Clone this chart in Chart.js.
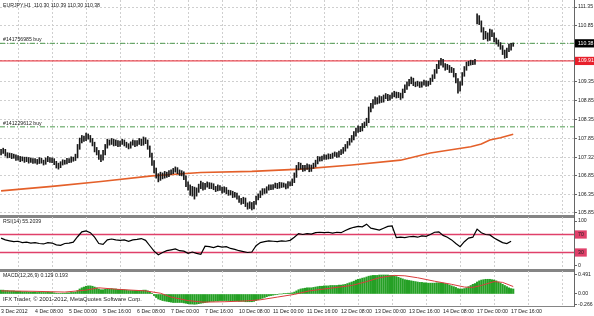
<!DOCTYPE html>
<html>
<head>
<meta charset="utf-8">
<script src="https://cdn.jsdelivr.net/npm/chart.js@4.4.1/dist/chart.umd.min.js"></script>
<style>
  html, body { margin: 0; padding: 0; background: #fff; }
  #wrap { position: relative; width: 594px; height: 316px; overflow: hidden; font-family: 'Liberation Sans', Arial, sans-serif; }
  canvas { position: absolute; left: 0; }
  .lbl { position: absolute; left: 3px; font-size: 5.2px; line-height: 1; color: #222; white-space: pre; }
</style>
</head>
<body>
<div id="wrap">
  <canvas id="priceChart" width="594" height="218" style="top:0"></canvas>
  <canvas id="rsiChart" width="594" height="55" style="top:217px"></canvas>
  <canvas id="macdChart" width="594" height="45" style="top:271px"></canvas>
  <div class="lbl" style="top:3px">EURJPY,H1  110.30 110.39 110.30 110.38</div>
  <div class="lbl" style="top:37px">#141756985 buy</div>
  <div class="lbl" style="top:121px">#141229612 buy</div>
  <div class="lbl" style="top:219px">RSI(14) 55.2039</div>
  <div class="lbl" style="top:273px">MACD(12,26,9) 0.129 0.193</div>
  <div class="lbl" style="top:297px; font-size:5.8px">IFX Trader, © 2001-2012, MetaQuotes Software Corp.</div>
</div>
<script>
// H1 bars from 3 Dec 16:00 to 17 Dec 17:00 (bar index = position on the x axis)
const highs = [
  107.55,107.58,107.55,107.46,107.45,107.44,107.42,107.40,107.38,107.36,107.35,107.34,107.34,107.33,107.32,107.30,
  107.30,107.28,107.33,107.31,107.26,107.32,107.36,107.33,107.32,107.30,107.23,107.18,107.22,107.27,107.26,107.31,
  107.30,107.35,107.34,107.42,107.68,107.85,107.92,107.90,107.98,107.96,107.92,107.84,107.74,107.60,107.52,107.40,
  107.52,107.68,107.82,107.80,107.84,107.82,107.80,107.78,107.77,107.82,107.80,107.74,107.70,107.75,107.80,107.78,
  107.78,107.84,107.82,107.88,107.86,107.80,107.64,107.45,107.25,107.05,106.90,106.94,106.92,106.96,106.94,106.98,
  107.00,107.04,107.08,107.06,107.00,106.98,106.95,106.84,106.68,106.60,106.56,106.54,106.52,106.62,106.70,106.66,
  106.64,106.68,106.66,106.65,106.63,106.56,106.60,106.58,106.54,106.55,106.53,106.46,106.45,106.43,106.40,106.38,
  106.31,106.24,106.27,106.25,106.12,106.15,106.13,106.16,106.30,106.36,106.44,106.50,106.50,106.55,106.60,106.60,
  106.61,106.65,106.64,106.67,106.66,106.65,106.63,106.69,106.68,106.76,106.92,107.12,107.20,107.18,107.12,107.12,
  107.16,107.14,107.13,107.18,107.26,107.36,107.35,107.37,107.41,107.40,107.43,107.42,107.45,107.48,107.46,107.50,
  107.54,107.60,107.68,107.76,107.84,107.92,108.02,108.12,108.18,108.16,108.24,108.28,108.38,108.68,108.78,108.88,
  108.95,108.93,108.98,108.96,109.00,109.04,109.02,109.00,109.06,109.10,109.08,109.07,109.05,109.16,109.27,109.35,
  109.42,109.48,109.45,109.35,109.37,109.35,109.35,109.40,109.38,109.37,109.45,109.54,109.68,109.82,109.92,109.98,
  109.95,109.84,109.82,109.79,109.74,109.71,109.58,109.44,109.36,109.60,109.76,109.88,109.90,109.93,109.92,109.95,
  111.17,111.12,110.98,110.80,110.70,110.66,110.76,110.74,110.66,110.52,110.47,110.40,110.32,110.20,110.25,110.36,110.38,110.39
];
const lows = [
  107.40,107.44,107.37,107.32,107.33,107.30,107.31,107.25,107.26,107.22,107.24,107.20,107.22,107.18,107.20,107.17,
  107.18,107.15,107.17,107.18,107.13,107.15,107.22,107.20,107.19,107.14,107.05,107.02,107.06,107.13,107.15,107.16,
  107.19,107.20,107.23,107.25,107.32,107.55,107.72,107.76,107.78,107.82,107.74,107.64,107.48,107.40,107.28,107.22,
  107.26,107.40,107.58,107.66,107.68,107.64,107.65,107.62,107.63,107.68,107.64,107.60,107.56,107.58,107.66,107.62,
  107.64,107.68,107.65,107.66,107.70,107.55,107.34,107.12,106.92,106.78,106.68,106.72,106.76,106.78,106.80,106.82,
  106.88,106.90,106.94,106.90,106.85,106.84,106.74,106.55,106.46,106.32,106.30,106.22,106.30,106.40,106.50,106.46,
  106.48,106.54,106.50,106.50,106.47,106.42,106.44,106.45,106.38,106.40,106.36,106.32,106.33,106.26,106.27,106.22,
  106.13,106.08,106.10,106.02,105.95,105.97,105.93,105.96,106.08,106.20,106.26,106.33,106.37,106.38,106.46,106.47,
  106.48,106.52,106.50,106.51,106.53,106.54,106.49,106.51,106.57,106.58,106.66,106.80,107.00,107.02,106.96,106.97,
  107.01,106.95,106.96,107.04,107.08,107.16,107.23,107.24,107.28,107.28,107.29,107.30,107.31,107.36,107.33,107.34,
  107.41,107.44,107.50,107.58,107.66,107.74,107.80,107.90,108.00,108.02,108.04,108.13,108.18,108.26,108.55,108.65,
  108.75,108.76,108.78,108.80,108.81,108.90,108.85,108.86,108.91,108.95,108.92,108.93,108.88,108.92,109.06,109.15,
  109.24,109.30,109.25,109.22,109.24,109.20,109.21,109.26,109.23,109.24,109.28,109.36,109.44,109.58,109.70,109.80,
  109.74,109.66,109.68,109.60,109.60,109.48,109.32,109.05,109.10,109.26,109.50,109.66,109.78,109.80,109.81,109.82,
  110.90,110.88,110.68,110.48,110.50,110.44,110.46,110.56,110.42,110.36,110.30,110.22,110.08,109.98,110.00,110.16,110.20,110.30
];

// moving average, read at a few bars
const maBars = [0, 24, 47, 71, 94, 118, 141, 165, 188, 202, 221, 226, 230, 235, 241];
const maValues = [106.44, 106.56, 106.69, 106.84, 106.93, 106.96, 107.02, 107.13, 107.26, 107.45, 107.62, 107.69, 107.80, 107.86, 107.95];

const orderLevels = [110.38, 108.15];
const alertLevel = 109.91;
const priceTicks = [105.85, 106.35, 106.85, 107.32, 107.85, 108.35, 108.85, 109.35, 109.91, 110.38, 110.85, 111.35];

// RSI(14), one value every 2 bars
const rsiStep = 2;
const rsiValues = [
  62,58,56,54,55,52,53,51,52,50, 49,52,51,47,46,50,51,53,65,76,
  78,74,64,50,48,58,60,58,57,58, 55,58,59,61,57,45,33,25,30,34,
  36,38,34,33,28,31,28,26,44,43, 41,44,42,43,39,37,34,32,30,31,
  45,52,54,56,55,54,56,55,57,64, 72,70,72,71,74,75,74,75,73,75,
  74,79,83,86,88,87,93,84,82,80, 84,88,89,63,64,63,65,66,64,67,
  66,70,75,76,68,64,58,50,43,54, 62,64,82,74,70,69,62,57,52,50,55
];
const rsiLevels = [30, 70];
const rsiTicks = [0, 30, 70, 100];

// MACD(12,26,9) histogram per bar, signal line read at a few bars
const macdValues = [
  0.10,0.10,0.09,0.09,0.08,0.08,0.08,0.07,0.07,0.07,0.06,0.06,0.06,0.05,0.05,0.05,
  0.05,0.04,0.05,0.04,0.04,0.04,0.05,0.04,0.04,0.03,0.02,0.01,0.01,0.02,0.02,0.03,
  0.03,0.04,0.04,0.05,0.09,0.13,0.16,0.18,0.20,0.21,0.21,0.20,0.18,0.16,0.13,0.11,
  0.11,0.12,0.13,0.13,0.14,0.13,0.13,0.12,0.12,0.12,0.11,0.10,0.09,0.09,0.09,0.09,
  0.09,0.09,0.09,0.10,0.10,0.08,0.05,0.01,-0.04,-0.09,-0.13,-0.15,-0.17,-0.18,-0.19,-0.20,
  -0.21,-0.22,-0.22,-0.22,-0.22,-0.22,-0.23,-0.24,-0.25,-0.26,-0.26,-0.266,-0.26,-0.25,-0.24,-0.23,
  -0.22,-0.21,-0.20,-0.19,-0.19,-0.18,-0.18,-0.17,-0.17,-0.17,-0.17,-0.17,-0.18,-0.18,-0.18,-0.18,
  -0.19,-0.19,-0.19,-0.20,-0.20,-0.20,-0.20,-0.19,-0.17,-0.15,-0.13,-0.11,-0.09,-0.07,-0.05,-0.04,
  -0.03,-0.02,-0.01,0.00,0.00,0.01,0.01,0.02,0.02,0.03,0.05,0.08,0.11,0.13,0.14,0.15,
  0.16,0.16,0.16,0.17,0.18,0.19,0.20,0.20,0.21,0.21,0.21,0.22,0.22,0.22,0.22,0.23,
  0.23,0.24,0.25,0.27,0.29,0.31,0.33,0.36,0.38,0.39,0.41,0.42,0.44,0.46,0.47,0.48,
  0.48,0.48,0.49,0.49,0.491,0.49,0.49,0.48,0.48,0.47,0.45,0.43,0.41,0.39,0.37,0.36,
  0.35,0.34,0.33,0.32,0.31,0.30,0.30,0.29,0.29,0.28,0.28,0.28,0.28,0.29,0.29,0.29,
  0.28,0.27,0.25,0.23,0.21,0.19,0.17,0.14,0.13,0.13,0.14,0.16,0.19,0.22,0.25,0.27,
  0.31,0.34,0.36,0.37,0.38,0.38,0.38,0.37,0.36,0.34,0.31,0.28,0.25,0.22,0.19,0.16,0.14,0.129
];
const signalBars = [0, 15, 30, 40, 46, 55, 68, 75, 80, 88, 95, 105, 115, 122, 130, 138, 145, 155, 165, 172, 178, 185, 190, 196, 204, 212, 218, 222, 226, 232, 236, 241];
const signalValues = [0.08, 0.07, 0.05, 0.10, 0.16, 0.12, 0.08, 0.02, -0.08, -0.17, -0.21, -0.20, -0.18, -0.15, -0.08, -0.01, 0.08, 0.15, 0.22, 0.32, 0.42, 0.48, 0.47, 0.42, 0.33, 0.25, 0.18, 0.17, 0.22, 0.32, 0.30, 0.193];
const macdTicks = [-0.266, 0, 0.491];

// time axis: one label every 16 bars
const dateTicks = [0, 16, 32, 48, 64, 80, 96, 112, 128, 144, 160, 176, 192, 208, 224, 240, 256];
const dateLabels = ['3 Dec 2012', '4 Dec 08:00', '5 Dec 00:00', '5 Dec 16:00', '6 Dec 08:00', '7 Dec 00:00',
  '7 Dec 16:00', '10 Dec 08:00', '11 Dec 00:00', '11 Dec 16:00', '12 Dec 08:00', '13 Dec 00:00',
  '13 Dec 16:00', '14 Dec 08:00', '17 Dec 00:00', '17 Dec 16:00'];

const FONT = "'Liberation Sans', Arial, sans-serif";
const X_MIN = -0.5, X_MAX = 269.6;
const GRID = '#cfcfcf';

function xAxis(showLabels, height) {
  return {
    type: 'linear', min: X_MIN, max: X_MAX, offset: false,
    afterBuildTicks: s => { s.ticks = dateTicks.map(v => ({ value: v })); },
    afterFit: s => { s.height = height; s.paddingLeft = 0; s.paddingRight = 0; },
    grid: { offset: true, color: GRID, lineWidth: 1, drawTicks: false },
    border: { color: '#858585', width: showLabels ? 1 : 3, dash: [2, 2] },
    ticks: {
      display: showLabels, autoSkip: false, maxRotation: 0, minRotation: 0, align: 'start', padding: 2,
      color: '#222', font: { family: FONT, size: 5.2 },
      callback: (v, i) => dateLabels[i] || ''
    }
  };
}

function yAxis(min, max, values, fmt, boxes, hideGrid) {
  return {
    position: 'right', min: min, max: max,
    afterBuildTicks: s => { s.ticks = values.map(v => ({ value: v })); },
    afterFit: s => { s.width = 20; s.paddingTop = 0; s.paddingBottom = 0; },
    grid: {
      color: hideGrid ? 'rgba(0,0,0,0)' : GRID, drawTicks: true, tickLength: 3,
      tickColor: '#666', tickBorderDash: []
    },
    border: { color: '#666', width: 1, dash: [2, 2] },
    ticks: {
      padding: 1, font: { family: FONT, size: 5.2 },
      color: c => boxes[c.tick.value] ? boxes[c.tick.value].text : '#222',
      showLabelBackdrop: c => !!boxes[c.tick.value],
      backdropColor: c => boxes[c.tick.value] ? boxes[c.tick.value].bg : 'rgba(0,0,0,0)',
      backdropPadding: { top: 1, bottom: 1, left: 3, right: 3 },
      callback: fmt
    }
  };
}

function hLine(value, color, width, dash) {
  return {
    type: 'line', data: [{ x: X_MIN, y: value }, { x: X_MAX, y: value }],
    borderColor: color, borderWidth: width, borderDash: dash || [], pointRadius: 0
  };
}

const common = {
  responsive: false, animation: false, devicePixelRatio: 1,
  layout: { padding: 0 },
  plugins: { legend: { display: false }, tooltip: { enabled: false } }
};

new Chart(document.getElementById('priceChart'), {
  type: 'bar',
  data: {
    datasets: [
      {
        type: 'bar', data: highs.map((h, i) => ({ x: i, y: [lows[i], h] })),
        backgroundColor: '#1a1a1a', barThickness: 1, grouped: false
      },
      {
        type: 'line', data: maBars.map((b, k) => ({ x: b, y: maValues[k] })),
        borderColor: '#e4602a', borderWidth: 1.6, pointRadius: 0, tension: 0
      },
      hLine(alertLevel, '#e8202c', 1),
      hLine(orderLevels[0], '#4f9a4f', 1, [5, 2, 1, 2]),
      hLine(orderLevels[1], '#4f9a4f', 1, [5, 2, 1, 2])
    ]
  },
  options: Object.assign({}, common, {
    scales: {
      x: xAxis(false, 2),
      y: yAxis(105.769, 111.537, priceTicks, v => v.toFixed(2), {
        '110.38': { bg: '#000', text: '#fff' },
        '109.91': { bg: '#e8202c', text: '#fff' }
      })
    }
  })
});

new Chart(document.getElementById('rsiChart'), {
  type: 'line',
  data: {
    datasets: [
      {
        data: rsiValues.map((v, k) => ({ x: k * rsiStep, y: v })),
        borderColor: '#000', borderWidth: 1.2, pointRadius: 0, tension: 0
      },
      hLine(rsiLevels[0], '#e0406a', 1.5),
      hLine(rsiLevels[1], '#e0406a', 1.5)
    ]
  },
  options: Object.assign({}, common, {
    scales: {
      x: xAxis(false, 2),
      y: yAxis(-8.89, 108.89, rsiTicks, v => String(v), {
        '30': { bg: '#e0406a', text: '#222' },
        '70': { bg: '#e0406a', text: '#222' }
      }, true)
    }
  })
});

new Chart(document.getElementById('macdChart'), {
  type: 'bar',
  data: {
    datasets: [
      {
        type: 'line', data: signalBars.map((b, k) => ({ x: b, y: signalValues[k] })),
        borderColor: '#d83c3c', borderWidth: 1, pointRadius: 0, tension: 0
      },
      {
        type: 'bar', data: macdValues.map((v, i) => ({ x: i, y: v })),
        backgroundColor: '#25a025', barThickness: 1.5, grouped: false
      }
    ]
  },
  options: Object.assign({}, common, {
    scales: {
      x: xAxis(true, 10),
      y: yAxis(-0.310, 0.594, macdTicks, v => v === 0 ? '0.00' : v.toFixed(3), {}, true)
    }
  })
});
</script>
</body>
</html>
